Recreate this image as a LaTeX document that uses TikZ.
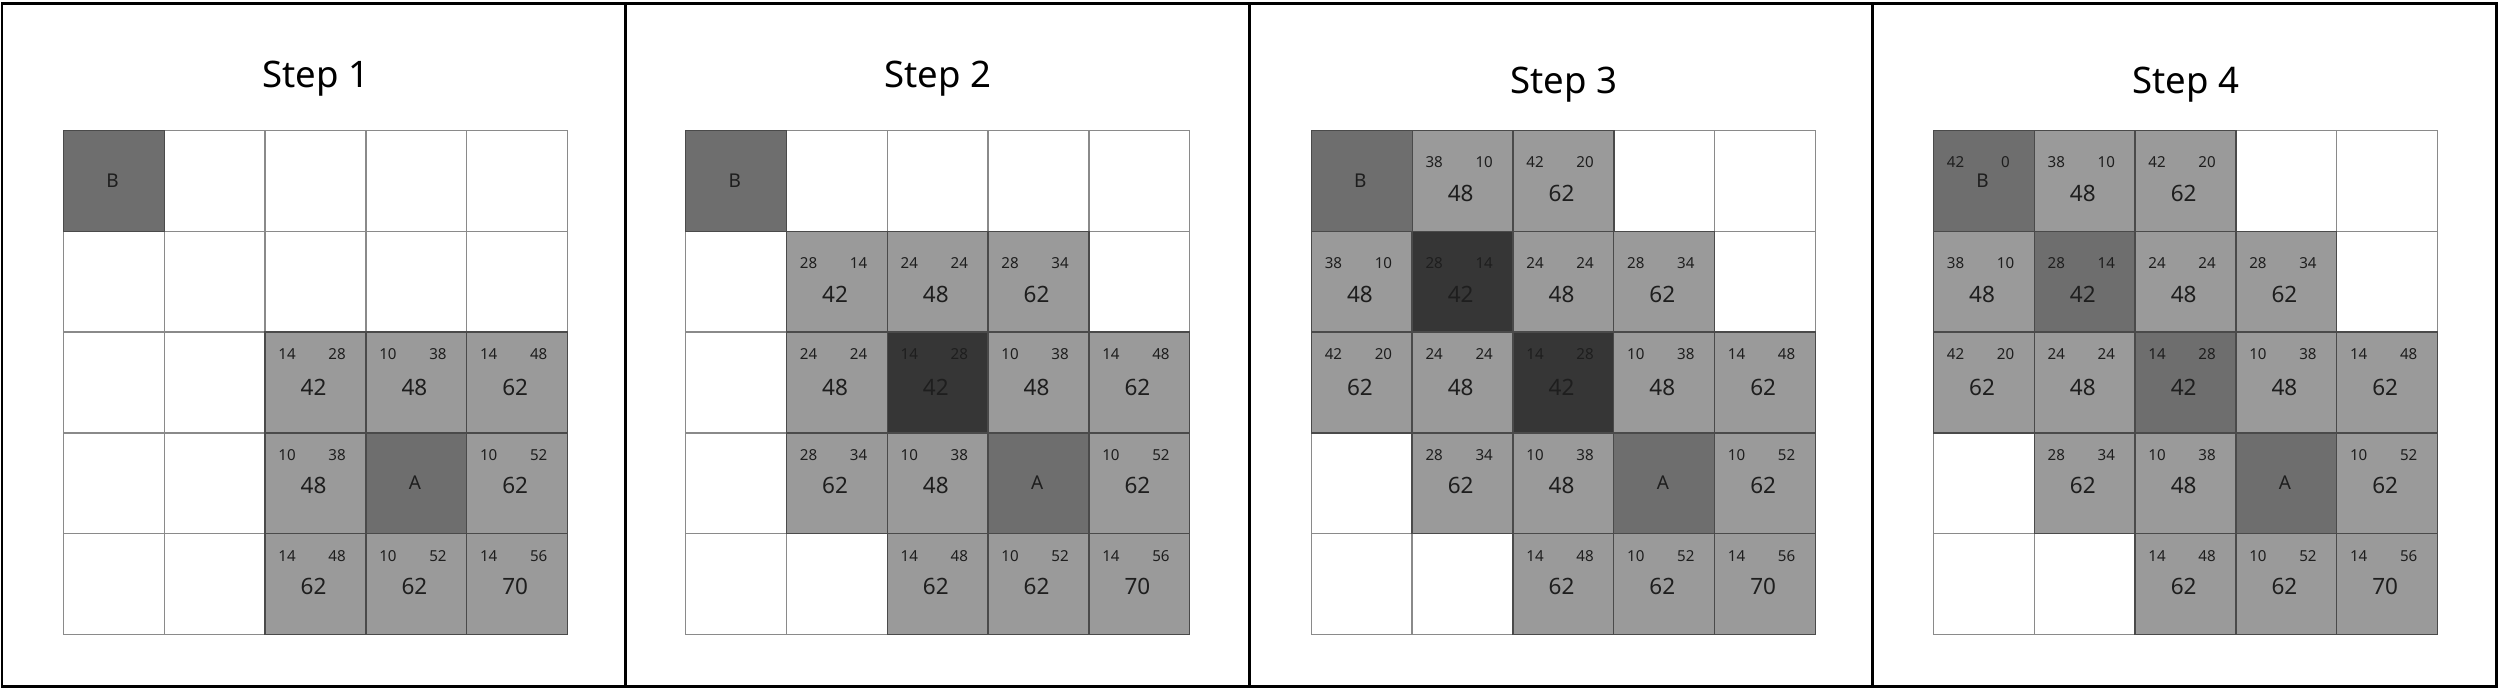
\documentclass[tikz,border=0pt]{standalone}
\usepackage{fontspec}
\setmainfont{Noto Sans}
\definecolor{lg}{HTML}{9A9A9A}
\definecolor{mg}{HTML}{6E6E6E}
\definecolor{dg}{HTML}{363636}
\definecolor{wb}{HTML}{8A8A8A}
\definecolor{gb}{HTML}{4A4A4A}
\definecolor{tx}{HTML}{1E1E1E}
\tikzset{
  wcell/.style={draw=wb, fill=white, line width=0.4pt, minimum size=1.008cm, inner sep=0pt},
  gcell/.style={draw=gb, line width=0.4pt, minimum size=1.008cm, inner sep=0pt},
  smallnum/.style={font=\fontsize{4.3}{5}\selectfont, text=tx, inner sep=0pt},
  bignum/.style={font=\fontsize{6.4}{7}\selectfont, text=tx, inner sep=0pt},
  letter/.style={font=\fontsize{5.4}{6}\selectfont, text=tx, inner sep=0pt},
  steptitle/.style={font=\fontsize{10.4}{12}\selectfont, inner sep=0pt, anchor=base},
  frameline/.style={line width=0.85pt, draw=black}
}
\newcommand{\gridcells}[2]{%
  \foreach \rr in {0,...,4}{\foreach \cc in {0,...,4}{
    \node[wcell] (s#1w\rr\cc) at ({#2+(\cc+0.5)*100.8},{130.5+(\rr+0.5)*100.8}) {};}}}
\newcommand{\numcells}[3]{%
  \foreach \rr/\cc/\ff/\na/\nb/\nm in {#3}{
    \pgfmathsetmacro\sy{\rr<2 ? 32 : 22}
    \pgfmathsetmacro\by{\rr<2 ? 63 : (\rr==2 ? 55 : 53)}
    \pgfmathsetmacro\cx{#2+\cc*100.8}
    \pgfmathsetmacro\cy{130.5+\rr*100.8}
    \node[gcell, fill=\ff] (s#1c\rr\cc) at (\cx+50.4,\cy+50.4) {};
    \node[smallnum] (s#1a\rr\cc) at (\cx+22,\cy+\sy) {\na};
    \node[smallnum] (s#1b\rr\cc) at (\cx+72,\cy+\sy) {\nb};
    \node[bignum] (s#1m\rr\cc) at (\cx+48.5,\cy+\by) {\nm};
  }}
\newcommand{\lettercell}[5]{% id, x0, row, col, letter
  \node[gcell, fill=mg] (s#1#5) at ({#2+(#4+0.5)*100.8},{130.5+(#3+0.5)*100.8}) {};
  \node[letter] (s#1#5t) at ({#2+#4*100.8+49},{130.5+#3*100.8+50}) {#5};}
\begin{document}
\begin{tikzpicture}[x=0.01cm, y=-0.01cm]
\useasboundingbox (0,0) rectangle (2500,691);
% frame
\draw[frameline] (2,3.5) rectangle (2496,686);
\draw[frameline] (625,3.5) -- (625,686);
\draw[frameline] (1249,3.5) -- (1249,686);
\draw[frameline] (1872.7,3.5) -- (1872.7,686);
% titles
\node[steptitle] (t1) at (315.6,88) {Step 1};
\node[steptitle] (t2) at (937.5,88) {Step 2};
\node[steptitle] (t3) at (1563.7,93.4) {Step 3};
\node[steptitle] (t4) at (2185.5,93.4) {Step 4};
% Step 1
\gridcells{1}{63.5}
\numcells{1}{63.5}{2/2/lg/14/28/42, 2/3/lg/10/38/48, 2/4/lg/14/48/62, 3/2/lg/10/38/48, 3/4/lg/10/52/62, 4/2/lg/14/48/62, 4/3/lg/10/52/62, 4/4/lg/14/56/70}
\lettercell{1}{63.5}{0}{0}{B}
\lettercell{1}{63.5}{3}{3}{A}
% Step 2
\gridcells{2}{685.7}
\numcells{2}{685.7}{1/1/lg/28/14/42, 1/2/lg/24/24/48, 1/3/lg/28/34/62, 2/1/lg/24/24/48, 2/2/dg/14/28/42, 2/3/lg/10/38/48, 2/4/lg/14/48/62, 3/1/lg/28/34/62, 3/2/lg/10/38/48, 3/4/lg/10/52/62, 4/2/lg/14/48/62, 4/3/lg/10/52/62, 4/4/lg/14/56/70}
\lettercell{2}{685.7}{0}{0}{B}
\lettercell{2}{685.7}{3}{3}{A}
% Step 3
\gridcells{3}{1311.4}
\numcells{3}{1311.4}{0/1/lg/38/10/48, 0/2/lg/42/20/62, 1/0/lg/38/10/48, 1/1/dg/28/14/42, 1/2/lg/24/24/48, 1/3/lg/28/34/62, 2/0/lg/42/20/62, 2/1/lg/24/24/48, 2/2/dg/14/28/42, 2/3/lg/10/38/48, 2/4/lg/14/48/62, 3/1/lg/28/34/62, 3/2/lg/10/38/48, 3/4/lg/10/52/62, 4/2/lg/14/48/62, 4/3/lg/10/52/62, 4/4/lg/14/56/70}
\lettercell{3}{1311.4}{0}{0}{B}
\lettercell{3}{1311.4}{3}{3}{A}
% Step 4
\gridcells{4}{1933.5}
\numcells{4}{1933.5}{0/1/lg/38/10/48, 0/2/lg/42/20/62, 1/0/lg/38/10/48, 1/1/mg/28/14/42, 1/2/lg/24/24/48, 1/3/lg/28/34/62, 2/0/lg/42/20/62, 2/1/lg/24/24/48, 2/2/mg/14/28/42, 2/3/lg/10/38/48, 2/4/lg/14/48/62, 3/1/lg/28/34/62, 3/2/lg/10/38/48, 3/4/lg/10/52/62, 4/2/lg/14/48/62, 4/3/lg/10/52/62, 4/4/lg/14/56/70}
\lettercell{4}{1933.5}{0}{0}{B}
\lettercell{4}{1933.5}{3}{3}{A}
\node[smallnum] (s4Bl) at (1933.5+22,130.5+32) {42};
\node[smallnum] (s4Br) at (1933.5+72,130.5+32) {0};
\end{tikzpicture}
\end{document}
